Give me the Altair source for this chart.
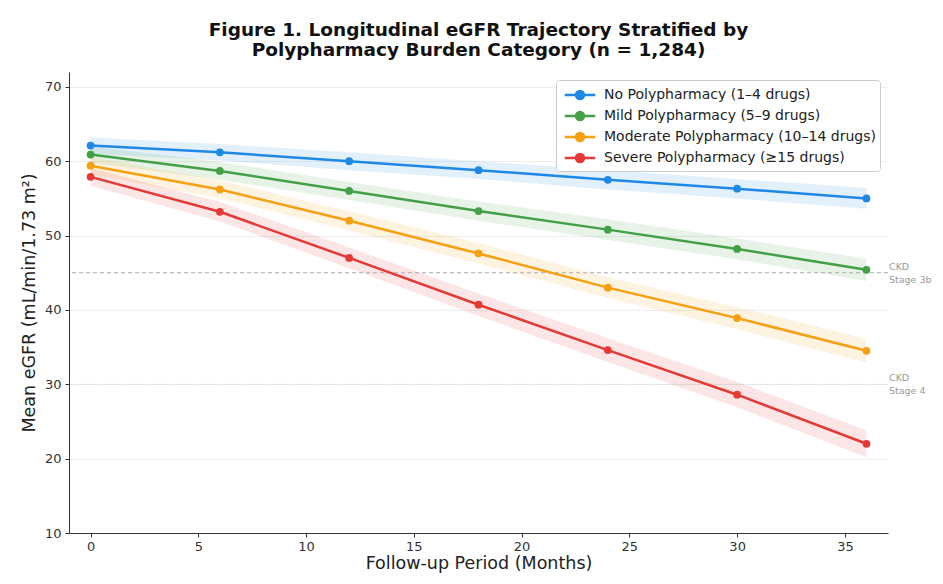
import altair as alt
import pandas as pd

months = [0, 6, 12, 18, 24, 30, 36]
categories = [
    "No Polypharmacy (1–4 drugs)",
    "Mild Polypharmacy (5–9 drugs)",
    "Moderate Polypharmacy (10–14 drugs)",
    "Severe Polypharmacy (≥15 drugs)",
]
colors = ["#1E88E5", "#43A047", "#F5A00F", "#E53935"]

egfr_none = [62.1, 61.2, 60.0, 58.8, 57.5, 56.3, 55.0]
egfr_mild = [60.9, 58.7, 56.0, 53.3, 50.8, 48.2, 45.4]
egfr_moderate = [59.4, 56.2, 52.0, 47.6, 43.0, 38.9, 34.5]
egfr_severe = [57.9, 53.2, 47.0, 40.7, 34.6, 28.6, 22.0]

ci_none = [1.1, 1.1, 1.2, 1.2, 1.3, 1.3, 1.4]
ci_mild = [1.1, 1.2, 1.2, 1.3, 1.4, 1.4, 1.5]
ci_moderate = [1.2, 1.2, 1.3, 1.4, 1.4, 1.5, 1.6]
ci_severe = [1.2, 1.3, 1.4, 1.5, 1.6, 1.7, 1.8]

ref_values = [45, 30]
ref_labels = [["CKD", "Stage 3b"], ["CKD", "Stage 4"]]

rows = []
for cat, vals, cis in zip(categories,
                          [egfr_none, egfr_mild, egfr_moderate, egfr_severe],
                          [ci_none, ci_mild, ci_moderate, ci_severe]):
    for m, v, c in zip(months, vals, cis):
        rows.append({"month": m, "egfr": v, "lo": v - c, "hi": v + c, "group": cat})
df = pd.DataFrame(rows)
ref_df = pd.DataFrame({"y": ref_values, "label": ref_labels})

FONT = "DejaVu Sans"
xscale = alt.Scale(domain=[-1, 37], nice=False, zero=False)
yscale = alt.Scale(domain=[10, 72], nice=False, zero=False)
cscale = alt.Scale(domain=categories, range=colors)

symbol_path = "M-1.6,0L1.6,0M0.42,0A0.42,0.42,0,1,1,-0.42,0A0.42,0.42,0,1,1,0.42,0Z"
legend = alt.Legend(
    title=None, orient="none", legendX=487, legendY=8,
    symbolType=symbol_path, symbolSize=361, symbolOpacity=1,
    symbolStrokeWidth=2.5, symbolOffset=9,
    labelFontSize=14, labelFont=FONT,
    labelColor="#222222", labelLimit=400, padding=4, rowPadding=1,
    labelOffset=13, strokeColor="#cccccc", fillColor="white", cornerRadius=3,
)
color_enc = alt.Color("group:N", scale=cscale, sort=categories, legend=legend)

x_enc = alt.X("month:Q", scale=xscale,
              axis=alt.Axis(values=[0, 5, 10, 15, 20, 25, 30, 35], grid=False,
                            title="Follow-up Period (Months)"))
y_enc = alt.Y("egfr:Q", scale=yscale,
              axis=alt.Axis(values=[10, 20, 30, 40, 50, 60, 70], grid=True,
                            title="Mean eGFR (mL/min/1.73 m²)"))

bands = alt.Chart(df).mark_area(opacity=0.13).encode(
    x=alt.X("month:Q", scale=xscale),
    y=alt.Y("lo:Q", scale=yscale),
    y2="hi:Q",
    color=color_enc,
)

ref45 = alt.Chart(ref_df).transform_filter("datum.y == 45").mark_rule(
    color="#aaaaaa", strokeDash=[4, 3], strokeWidth=1
).encode(y=alt.Y("y:Q", scale=yscale))
ref30 = alt.Chart(ref_df).transform_filter("datum.y == 30").mark_rule(
    color="#cccccc", strokeDash=[1, 2], strokeWidth=1
).encode(y=alt.Y("y:Q", scale=yscale))

ref_text = alt.Chart(ref_df).mark_text(
    align="left", baseline="middle", fontSize=9.5, color="#999999", font=FONT,
    lineHeight=13, dy=-6
).encode(x=alt.value(820), y=alt.Y("y:Q", scale=yscale), text="label")

lines = alt.Chart(df).mark_line(strokeWidth=2.5).encode(
    x=x_enc, y=y_enc, color=color_enc,
)

points = alt.Chart(df).mark_circle(size=60, opacity=1).encode(
    x=alt.X("month:Q", scale=xscale),
    y=alt.Y("egfr:Q", scale=yscale),
    color=color_enc,
)

chart = alt.layer(bands, ref45, ref30, lines, points, ref_text).properties(
    width=819, height=461,
    title=alt.Title(
        ["Figure 1. Longitudinal eGFR Trajectory Stratified by",
         "Polypharmacy Burden Category (n = 1,284)"],
        font=FONT, fontSize=18.5, fontWeight="bold", color="#111111",
        anchor="middle", offset=13, lineHeight=20),
    autosize=alt.AutoSizeParams(type="none"),
    padding={"left": 61, "top": 64, "right": 47, "bottom": 43},
).configure_view(stroke=None).configure_axis(
    labelFont=FONT, titleFont=FONT, labelFontSize=13, titleFontSize=17.5,
    titleFontWeight="normal", labelColor="#333333", titleColor="#222222",
    domainColor="#333333", tickColor="#333333", tickSize=4,
    gridColor="#eeeeee", gridWidth=1,
).configure_axisY(titlePadding=6, labelPadding=4).configure_axisX(
    titlePadding=1, labelPadding=3)

chart.save("out.html", embed_options={"renderer": "svg", "actions": False})
